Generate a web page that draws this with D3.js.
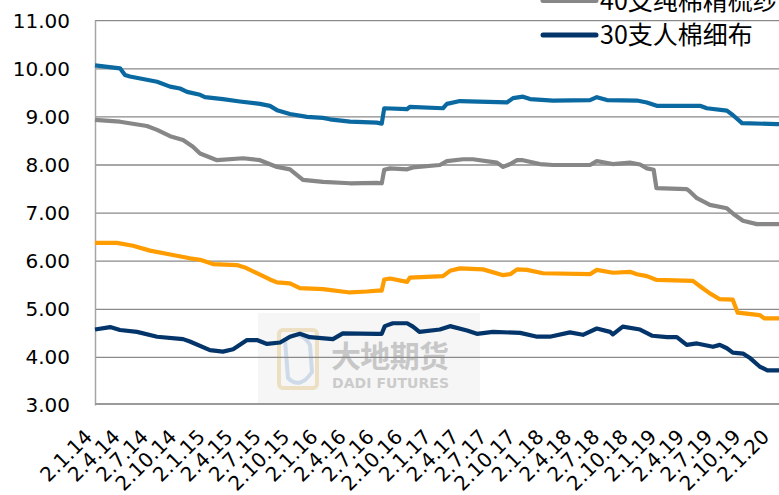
<!DOCTYPE html>
<html><head><meta charset="utf-8">
<script src="https://cdn.jsdelivr.net/npm/d3@7"></script>
<style>body{margin:0;background:#fff}svg{display:block}</style>
</head><body><svg id="c" width="779" height="495"></svg>
<script>
// ---- data ----
const tickDates = ["2014-01-02","2014-04-02","2014-07-02","2014-10-02","2015-01-02","2015-04-02","2015-07-02","2015-10-02","2016-01-02","2016-04-02","2016-07-02","2016-10-02","2017-01-02","2017-04-02","2017-07-02","2017-10-02","2018-01-02","2018-04-02","2018-07-02","2018-10-02","2019-01-02","2019-04-02","2019-07-02","2019-10-02","2020-01-02"];
const tickLabels = ["2.1.14","2.4.14","2.7.14","2.10.14","2.1.15","2.4.15","2.7.15","2.10.15","2.1.16","2.4.16","2.7.16","2.10.16","2.1.17","2.4.17","2.7.17","2.10.17","2.1.18","2.4.18","2.7.18","2.10.18","2.1.19","2.4.19","2.7.19","2.10.19","2.1.20"];
const yTicks = [3,4,5,6,7,8,9,10,11];

const blueDates = ["2014-01-02","2014-03-24","2014-04-09","2014-04-25","2014-07-22","2014-09-02","2014-10-04","2014-10-27","2014-12-08","2014-12-24","2015-02-20","2015-04-16","2015-06-20","2015-07-22","2015-08-14","2015-09-25","2015-11-19","2016-01-10","2016-02-01","2016-04-06","2016-07-02","2016-07-18","2016-07-26","2016-10-08","2016-10-17","2017-02-01","2017-02-14","2017-03-28","2017-08-27","2017-09-16","2017-10-18","2017-11-10","2018-01-23","2018-05-23","2018-06-14","2018-07-17","2018-10-22","2018-11-23","2018-12-25","2019-05-14","2019-06-05","2019-08-09","2019-08-28","2019-09-27","2020-01-18","2020-02-10"];
const blueValues = [10.07,10.01,9.87,9.84,9.73,9.63,9.59,9.52,9.46,9.41,9.37,9.32,9.27,9.23,9.14,9.06,9.00,8.98,8.95,8.90,8.88,8.86,9.18,9.16,9.21,9.18,9.27,9.33,9.30,9.39,9.42,9.37,9.34,9.35,9.41,9.35,9.34,9.30,9.23,9.23,9.18,9.13,9.04,8.87,8.85,8.85];

const greyDates = ["2014-01-02","2014-03-24","2014-06-19","2014-07-22","2014-09-02","2014-10-14","2014-11-15","2014-12-08","2015-02-01","2015-04-26","2015-06-20","2015-08-14","2015-09-25","2015-11-06","2016-01-10","2016-04-06","2016-07-02","2016-07-18","2016-07-26","2016-08-14","2016-10-08","2016-10-27","2017-01-22","2017-02-14","2017-04-07","2017-05-09","2017-07-26","2017-08-15","2017-09-07","2017-09-29","2017-10-18","2017-12-12","2018-01-23","2018-05-23","2018-06-14","2018-08-05","2018-09-29","2018-11-01","2018-11-23","2018-12-15","2018-12-24","2019-04-01","2019-04-11","2019-05-04","2019-06-15","2019-08-09","2019-09-04","2019-09-30","2019-11-14","2020-02-10"];
const greyValues = [8.94,8.90,8.81,8.73,8.60,8.52,8.38,8.24,8.10,8.14,8.10,7.96,7.91,7.69,7.65,7.62,7.63,7.62,7.90,7.93,7.91,7.95,8.00,8.08,8.12,8.12,8.05,7.96,8.02,8.10,8.10,8.02,8.00,8.00,8.08,8.02,8.05,8.01,7.93,7.90,7.52,7.50,7.45,7.31,7.17,7.10,6.96,6.84,6.77,6.77];

const orangeDates = ["2014-01-02","2014-03-14","2014-05-05","2014-06-29","2014-09-11","2014-11-05","2014-12-08","2015-01-19","2015-04-06","2015-05-02","2015-06-10","2015-07-22","2015-08-14","2015-09-25","2015-10-27","2016-01-10","2016-04-06","2016-05-31","2016-07-06","2016-07-18","2016-07-26","2016-08-14","2016-10-08","2016-10-17","2017-02-01","2017-02-24","2017-03-28","2017-06-11","2017-08-15","2017-09-07","2017-09-29","2017-10-31","2017-12-22","2018-05-23","2018-06-14","2018-08-05","2018-09-29","2018-10-22","2018-11-23","2018-12-25","2019-04-21","2019-05-14","2019-06-15","2019-07-17","2019-08-28","2019-09-13","2019-11-23","2019-12-09","2020-02-10"];
const orangeValues = [6.38,6.38,6.32,6.22,6.13,6.06,6.03,5.94,5.92,5.87,5.75,5.62,5.56,5.54,5.44,5.42,5.35,5.37,5.39,5.39,5.62,5.64,5.57,5.66,5.69,5.80,5.85,5.83,5.71,5.73,5.83,5.82,5.75,5.73,5.82,5.76,5.78,5.73,5.69,5.61,5.59,5.48,5.33,5.21,5.20,4.93,4.88,4.81,4.81];

const navyDates = ["2014-01-02","2014-02-20","2014-03-24","2014-05-18","2014-07-22","2014-10-14","2014-11-05","2015-01-09","2015-02-20","2015-03-25","2015-05-09","2015-06-10","2015-07-13","2015-08-24","2015-09-25","2015-10-27","2015-11-28","2016-02-11","2016-03-14","2016-07-02","2016-07-18","2016-07-28","2016-08-23","2016-10-08","2016-10-27","2016-11-17","2017-01-22","2017-02-24","2017-04-20","2017-05-22","2017-07-13","2017-10-09","2017-12-03","2018-01-13","2018-03-19","2018-04-30","2018-06-14","2018-07-27","2018-08-05","2018-09-06","2018-11-01","2018-12-11","2019-01-27","2019-02-28","2019-04-01","2019-05-04","2019-06-25","2019-07-17","2019-08-09","2019-08-28","2019-09-30","2019-10-24","2019-11-23","2019-12-18","2020-02-10"];
const navyValues = [4.58,4.63,4.57,4.53,4.43,4.38,4.33,4.15,4.12,4.17,4.36,4.36,4.28,4.31,4.43,4.49,4.42,4.38,4.50,4.49,4.49,4.65,4.71,4.71,4.64,4.53,4.58,4.65,4.56,4.49,4.53,4.51,4.43,4.43,4.52,4.47,4.60,4.53,4.48,4.64,4.58,4.45,4.42,4.42,4.26,4.29,4.22,4.26,4.19,4.10,4.08,3.98,3.81,3.73,3.73];

const seriesNames = ["40支纯棉精梳纱","30支人棉细布"];

// ---- chart ----
const parse = d3.timeParse("%Y-%m-%d");
const svg = d3.select("#c");
const x = d3.scaleTime().domain([parse("2014-01-02"), parse("2020-01-02")]).range([95, 772]);
const y = d3.scaleLinear().domain([3, 11]).range([405.5, 20.7]);
const plotRight = 800;

// watermark
const wm = svg.append("g").attr("opacity", 0.9);
wm.append("rect").attr("x", 258).attr("y", 313).attr("width", 222).attr("height", 92).attr("fill", "#f6f6f6");
wm.append("rect").attr("x", 279).attr("y", 330).attr("width", 38).attr("height", 58).attr("rx", 4)
  .attr("fill", "none").attr("stroke", "#eadcbc").attr("stroke-width", 4);
wm.append("path").attr("d", "M285,340 Q300,328 310,345 L312,372 Q300,390 288,378 Z")
  .attr("fill", "none").attr("stroke", "#c9d6e6").attr("stroke-width", 4);
wm.append("text").attr("x", 331).attr("y", 367).attr("font-family", "Noto Sans CJK SC").attr("font-weight", "bold")
  .attr("font-size", 30).attr("fill", "#c2c2c2").attr("textLength", 118).text("大地期货");
wm.append("text").attr("x", 332).attr("y", 388).attr("font-family", "DejaVu Sans").attr("font-weight", "bold")
  .attr("font-size", 14).attr("fill", "#c6c6c6").attr("textLength", 117).text("DADI FUTURES");

// gridlines
svg.append("g").selectAll("line").data(yTicks.filter(v => v > 3)).join("line")
  .attr("x1", 95).attr("x2", plotRight).attr("y1", d => y(d)).attr("y2", d => y(d))
  .attr("stroke", "#8a8a8a").attr("stroke-width", 1.3);

// y axis
const yAxis = svg.append("g").attr("transform", "translate(95,0)")
  .call(d3.axisLeft(y).tickValues(yTicks).tickFormat(d3.format(".2f")).tickSize(0).tickPadding(25));
yAxis.select(".domain").remove();
yAxis.selectAll("text").attr("font-family", "DejaVu Sans").attr("font-size", 20).attr("fill", "#000");
svg.append("line").attr("x1", 95.5).attr("x2", 95.5).attr("y1", y(11)).attr("y2", y(3))
  .attr("stroke", "#a6a6a6").attr("stroke-width", 1.5);

// x axis
const xAxis = svg.append("g").attr("transform", "translate(0,404)")
  .call(d3.axisBottom(x).tickValues(tickDates.map(parse)).tickFormat((d, i) => tickLabels[i]).tickSize(0));
xAxis.select(".domain").attr("d", `M95,0H${plotRight}`).attr("stroke", "#9a9a9a").attr("stroke-width", 2);
xAxis.selectAll("text").attr("font-family", "DejaVu Sans").attr("font-size", 20).attr("fill", "#000")
  .attr("text-anchor", "end").attr("dy", 0).attr("y", 0)
  .attr("transform", "translate(-2,34) rotate(-45)");

// lines
const line = d3.line().x(d => x(d.date)).y(d => y(d.v));
const series = [
  { dates: blueDates, values: blueValues, color: "#0a69a0" },
  { dates: greyDates, values: greyValues, color: "#878787" },
  { dates: orangeDates, values: orangeValues, color: "#ff9c00" },
  { dates: navyDates, values: navyValues, color: "#04356a" }
];
series.forEach(s => {
  const pts = s.dates.map((d, i) => ({ date: parse(d), v: s.values[i] }));
  svg.append("path").datum(pts).attr("d", line).attr("fill", "none")
    .attr("stroke", s.color).attr("stroke-width", 4.2).attr("stroke-linejoin", "round");
});

// legend (partly cropped at top, as in the reference)
const legend = [
  { name: seriesNames[0], color: "#878787", yl: 0.5, yt: 9.5 },
  { name: seriesNames[1], color: "#04356a", yl: 35, yt: 44 }
];
legend.forEach(l => {
  svg.append("line").attr("x1", 543).attr("x2", 596).attr("y1", l.yl).attr("y2", l.yl)
    .attr("stroke", l.color).attr("stroke-width", 5).attr("stroke-linecap", "round");
  svg.append("text").attr("x", 600).attr("y", l.yt).attr("font-family", "Noto Sans CJK SC")
    .attr("font-size", 25).attr("fill", "#000").text(l.name);
});
</script></body></html>
